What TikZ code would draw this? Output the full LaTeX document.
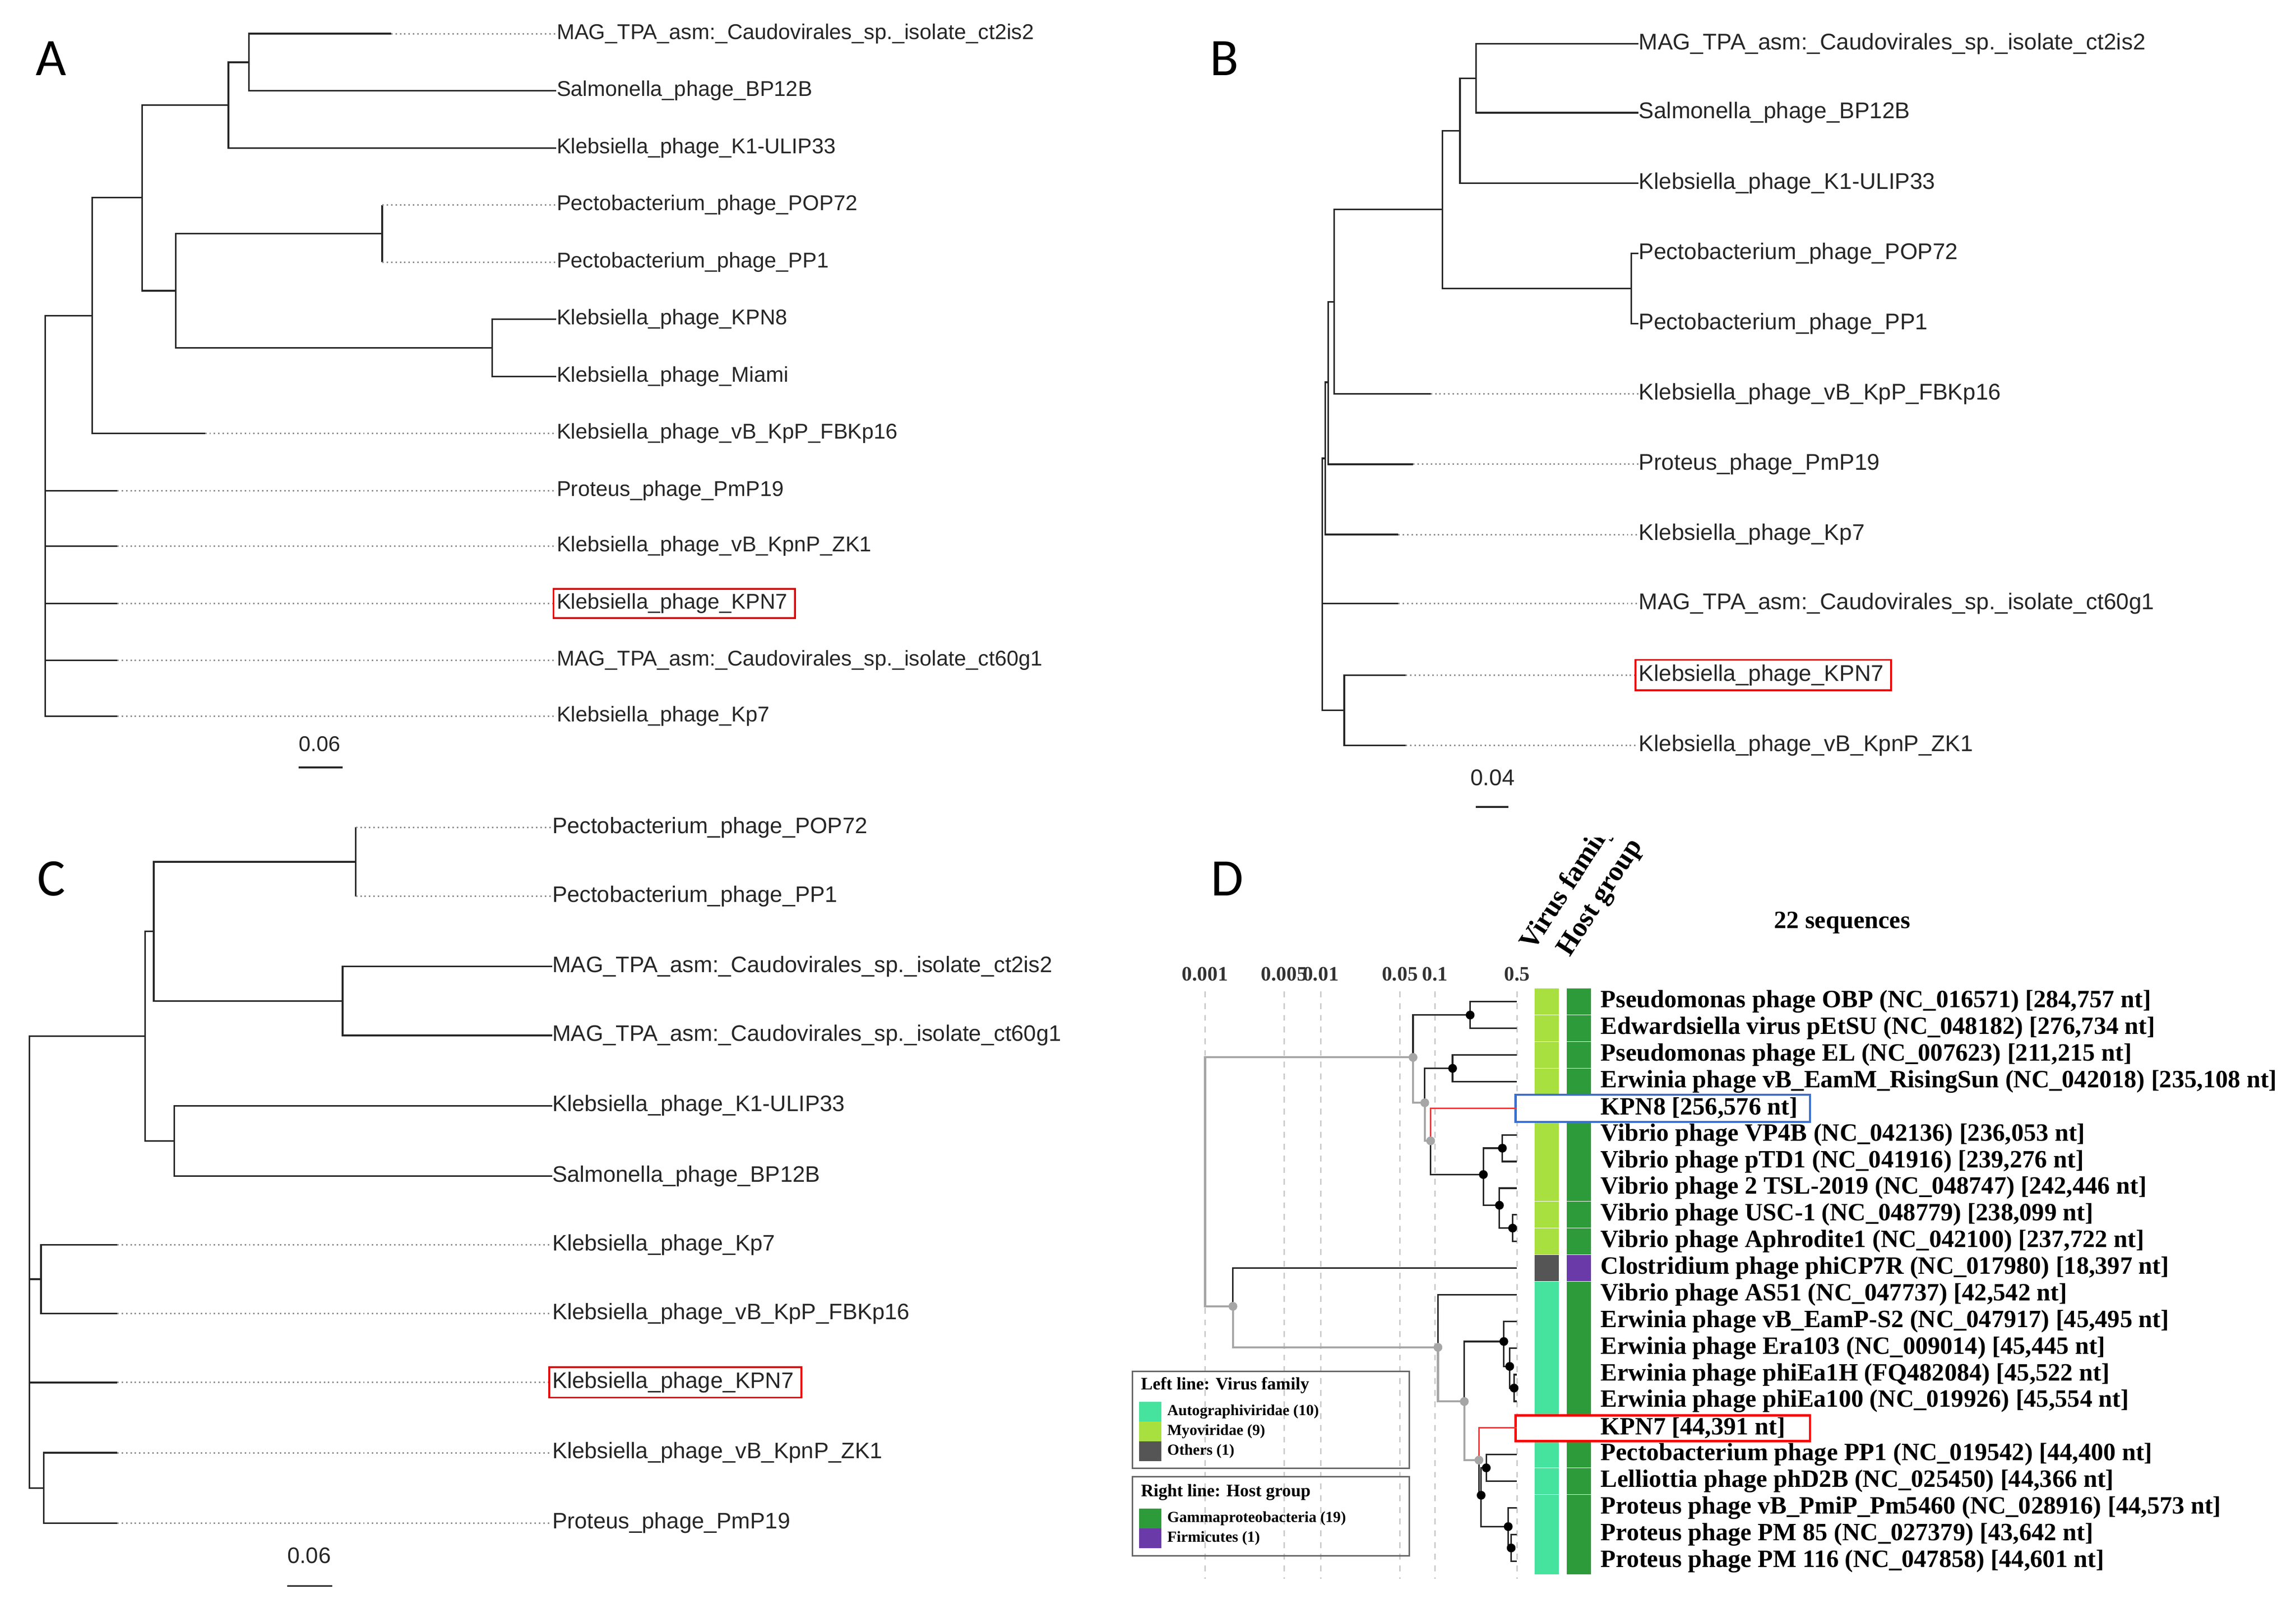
\documentclass[tikz,border=0pt]{standalone}
\usepackage{fontspec}
\setmainfont{Liberation Serif}
\setsansfont{Liberation Sans}
\newfontfamily\calib{Carlito}
\definecolor{autog}{HTML}{45E39E}
\definecolor{myo}{HTML}{A8E03F}
\definecolor{oth}{HTML}{555555}
\definecolor{gam}{HTML}{2E9B3A}
\definecolor{firm}{HTML}{6A3AA8}
\definecolor{kblue}{HTML}{3A6FD0}
\newcommand\dotleaf[4]{\draw[tr] (#1) |- (#2,#3); \draw[dt] (#2,#3) -- (#4.west);}
\newcommand\solidleaf[2]{\draw[tr] (#1) |- (#2.west);}
\newcommand\hlbox[1]{\draw[box] ([xshift=-2pt,yshift=-3pt]#1.south west) rectangle ([xshift=5pt,yshift=3pt]#1.north east);}
\begin{document}
\begin{tikzpicture}[x=1pt,y=-1pt,
  tr/.style={draw=black!85,line width=1.1pt},
  dt/.style={draw=black!45,line width=1pt,dash pattern=on 1pt off 2pt},
  gr/.style={draw=black!35,line width=1.4pt},
  rd/.style={draw=red!80,line width=1pt},
  lab/.style={font=\fontsize{#1}{18}\selectfont\sffamily,text=black!85,inner sep=0pt,anchor=west},
  labD/.style={font=\fontsize{17}{18}\selectfont\bfseries,inner sep=0pt,anchor=west},
  letter/.style={font=\fontsize{36}{40}\selectfont\calib,inner sep=0pt},
  box/.style={draw=red!90!black,line width=1.3pt},
  grid/.style={draw=black!20,line width=0.8pt,dash pattern=on 4pt off 4pt},
  bd/.style={fill=black},
  gd/.style={fill=black!35}]
\useasboundingbox (0,0) rectangle (1568,1098);
% ---------- Panel A ----------
\node[letter] (LA) at (35,40) {A};
\foreach \n/\y/\t in {1/23/{MAG\_TPA\_asm:\_Caudovirales\_sp.\_isolate\_ct2is2},2/62/{Salmonella\_phage\_BP12B},3/101/{Klebsiella\_phage\_K1-ULIP33},4/140/{Pectobacterium\_phage\_POP72},5/179/{Pectobacterium\_phage\_PP1},6/218/{Klebsiella\_phage\_KPN8},7/257/{Klebsiella\_phage\_Miami},8/296/{Klebsiella\_phage\_vB\_KpP\_FBKp16},9/335/{Proteus\_phage\_PmP19},10/373/{Klebsiella\_phage\_vB\_KpnP\_ZK1},11/412/{Klebsiella\_phage\_KPN7},12/451/{MAG\_TPA\_asm:\_Caudovirales\_sp.\_isolate\_ct60g1},13/489/{Klebsiella\_phage\_Kp7}}
  {\node[lab=14.6] (A\n) at (380,\y) {\t};}
\coordinate (a1) at (170,42.5); \coordinate (a2) at (156,71.75);
\coordinate (a3) at (261,159.5); \coordinate (a4) at (336,237.5);
\coordinate (a5) at (120,198.5); \coordinate (a6) at (97,135);
\coordinate (a7) at (63,215.5); \coordinate (aR) at (31,352);
\dotleaf{a1}{267}{23}{A1} \solidleaf{a1}{A2}
\draw[tr] (a2) |- (a1); \solidleaf{a2}{A3}
\dotleaf{a3}{261}{140}{A4} \dotleaf{a3}{261}{179}{A5}
\solidleaf{a4}{A6} \solidleaf{a4}{A7}
\draw[tr] (a5) |- (a3); \draw[tr] (a5) |- (a4);
\draw[tr] (a6) |- (a2); \draw[tr] (a6) |- (a5);
\draw[tr] (a7) |- (a6); \dotleaf{a7}{140}{296}{A8}
\draw[tr] (aR) |- (a7);
\dotleaf{aR}{80}{335}{A9} \dotleaf{aR}{80}{373}{A10} \dotleaf{aR}{80}{412}{A11} \dotleaf{aR}{80}{451}{A12} \dotleaf{aR}{80}{489}{A13}
\hlbox{A11}
\node[lab=14.6] (sA) at (204,508) {0.06};
\draw[tr] (204,524) -- (234,524);
% ---------- Panel B ----------
\node[letter] (LB) at (836,40) {B};
\foreach \n/\y/\t in {1/30/{MAG\_TPA\_asm:\_Caudovirales\_sp.\_isolate\_ct2is2},2/77/{Salmonella\_phage\_BP12B},3/125/{Klebsiella\_phage\_K1-ULIP33},4/173/{Pectobacterium\_phage\_POP72},5/221/{Pectobacterium\_phage\_PP1},6/269/{Klebsiella\_phage\_vB\_KpP\_FBKp16},7/317/{Proteus\_phage\_PmP19},8/365/{Klebsiella\_phage\_Kp7},9/412/{MAG\_TPA\_asm:\_Caudovirales\_sp.\_isolate\_ct60g1},10/461/{Klebsiella\_phage\_KPN7},11/509/{Klebsiella\_phage\_vB\_KpnP\_ZK1}}
  {\node[lab=15.5] (B\n) at (1119,\y) {\t};}
\coordinate (b1) at (1008,53.5); \coordinate (b2) at (997,89.25);
\coordinate (b3) at (1114,197); \coordinate (b4) at (985,143);
\coordinate (b5) at (911,206); \coordinate (b6) at (907,261);
\coordinate (b7) at (905,313); \coordinate (b8) at (918,485);
\coordinate (bR) at (903,400);
\solidleaf{b1}{B1} \solidleaf{b1}{B2}
\draw[tr] (b2) |- (b1); \solidleaf{b2}{B3}
\solidleaf{b3}{B4} \solidleaf{b3}{B5}
\draw[tr] (b4) |- (b2); \draw[tr] (b4) |- (b3);
\draw[tr] (b5) |- (b4); \dotleaf{b5}{977}{269}{B6}
\draw[tr] (b6) |- (b5); \dotleaf{b6}{965}{317}{B7}
\draw[tr] (b7) |- (b6); \dotleaf{b7}{955}{365}{B8}
\dotleaf{b8}{960}{461}{B10} \dotleaf{b8}{960}{509}{B11}
\draw[tr] (bR) |- (b7); \draw[tr] (bR) |- (b8); \dotleaf{bR}{955}{412}{B9}
\hlbox{B10}
\node[lab=15.5] (sB) at (1004,531) {0.04};
\draw[tr] (1008,551) -- (1030,551);
% ---------- Panel C ----------
\node[letter] (LC) at (35,600) {C};
\foreach \n/\y/\t in {1/565/{Pectobacterium\_phage\_POP72},2/612/{Pectobacterium\_phage\_PP1},3/660/{MAG\_TPA\_asm:\_Caudovirales\_sp.\_isolate\_ct2is2},4/707/{MAG\_TPA\_asm:\_Caudovirales\_sp.\_isolate\_ct60g1},5/755/{Klebsiella\_phage\_K1-ULIP33},6/803/{Salmonella\_phage\_BP12B},7/850/{Klebsiella\_phage\_Kp7},8/897/{Klebsiella\_phage\_vB\_KpP\_FBKp16},9/944/{Klebsiella\_phage\_KPN7},10/992/{Klebsiella\_phage\_vB\_KpnP\_ZK1},11/1040/{Proteus\_phage\_PmP19}}
  {\node[lab=15.3] (C\n) at (377,\y) {\t};}
\coordinate (c1) at (243,588.5); \coordinate (c2) at (234,683.5);
\coordinate (c3) at (105,636); \coordinate (c4) at (119,779);
\coordinate (c5) at (99,707.5); \coordinate (c6) at (28,873.5);
\coordinate (c7) at (30,1016); \coordinate (cR) at (20,860);
\dotleaf{c1}{243}{565}{C1} \dotleaf{c1}{243}{612}{C2}
\solidleaf{c2}{C3} \solidleaf{c2}{C4}
\draw[tr] (c3) |- (c1); \draw[tr] (c3) |- (c2);
\solidleaf{c4}{C5} \solidleaf{c4}{C6}
\draw[tr] (c5) |- (c3); \draw[tr] (c5) |- (c4);
\dotleaf{c6}{80}{850}{C7} \dotleaf{c6}{80}{897}{C8}
\dotleaf{c7}{80}{992}{C10} \dotleaf{c7}{80}{1040}{C11}
\draw[tr] (cR) |- (c5); \draw[tr] (cR) |- (c6); \dotleaf{cR}{80}{944}{C9} \draw[tr] (cR) |- (c7);
\hlbox{C9}
\node[lab=15.3] (sC) at (196,1062) {0.06};
\draw[tr] (196,1083) -- (227,1083);
% ---------- Panel D ----------
\node[letter] (LD) at (838,600) {D};
\foreach \x/\t in {823/0.001,877/0.005,902/0.01,956/0.05,980/0.1,1036/0.5}
  {\draw[grid] (\x,677) -- (\x,1078);
   \node[font=\fontsize{14}{16}\selectfont\bfseries,inner sep=0pt,text=black!80] (tk\x) at (\x,665) {\t};}
\node[font=\fontsize{17}{20}\selectfont\bfseries,inner sep=0pt] (seq) at (1258,630) {22 sequences};
\begin{scope}
\clip (1000,572) rectangle (1200,700);
\node[font=\fontsize{19}{20}\selectfont\bfseries,rotate=57,anchor=base west,inner sep=0pt] (vf) at (1047,650) {Virus family};
\end{scope}
\node[font=\fontsize{19}{20}\selectfont\bfseries,rotate=57,anchor=base west,inner sep=0pt] (hg) at (1072,654) {Host group};
\foreach \i/\c/\h in {1/myo/gam,2/myo/gam,3/myo/gam,4/myo/gam,5/myo/gam,6/myo/gam,7/myo/gam,8/myo/gam,9/myo/gam,10/myo/gam,11/oth/firm,12/autog/gam,13/autog/gam,14/autog/gam,15/autog/gam,16/autog/gam,17/autog/gam,18/autog/gam,19/autog/gam,20/autog/gam,21/autog/gam,22/autog/gam}
 {\pgfmathsetmacro\yy{684+18.19*(\i-1)}
  \coordinate (t\i) at (1036,\yy);
  \fill[\c] (1048,\yy-9.1) rectangle (1064.5,\yy+9.1);
  \fill[\h] (1070,\yy-9.1) rectangle (1086.5,\yy+9.1);
  \draw[white,line width=0.3pt] (1048,\yy+9.1) -- (1064.5,\yy+9.1) (1070,\yy+9.1) -- (1086.5,\yy+9.1);}
\draw[kblue,line width=1.5pt,fill=white] (1035,747.5) rectangle (1236,766);
\draw[red,line width=1.5pt,fill=white] (1035,966.5) rectangle (1236,984);
\foreach \i/\t in {
 1/{Pseudomonas phage OBP (NC\_016571) [284,757 nt]},
 2/{Edwardsiella virus pEtSU (NC\_048182) [276,734 nt]},
 3/{Pseudomonas phage EL (NC\_007623) [211,215 nt]},
 4/{Erwinia phage vB\_EamM\_RisingSun (NC\_042018) [235,108 nt]},
 5/{KPN8 [256,576 nt]},
 6/{Vibrio phage VP4B (NC\_042136) [236,053 nt]},
 7/{Vibrio phage pTD1 (NC\_041916) [239,276 nt]},
 8/{Vibrio phage 2 TSL-2019 (NC\_048747) [242,446 nt]},
 9/{Vibrio phage USC-1 (NC\_048779) [238,099 nt]},
 10/{Vibrio phage Aphrodite1 (NC\_042100) [237,722 nt]},
 11/{Clostridium phage phiCP7R (NC\_017980) [18,397 nt]},
 12/{Vibrio phage AS51 (NC\_047737) [42,542 nt]},
 13/{Erwinia phage vB\_EamP-S2 (NC\_047917) [45,495 nt]},
 14/{Erwinia phage Era103 (NC\_009014) [45,445 nt]},
 15/{Erwinia phage phiEa1H (FQ482084) [45,522 nt]},
 16/{Erwinia phage phiEa100 (NC\_019926) [45,554 nt]},
 17/{KPN7 [44,391 nt]},
 18/{Pectobacterium phage PP1 (NC\_019542) [44,400 nt]},
 19/{Lelliottia phage phD2B (NC\_025450) [44,366 nt]},
 20/{Proteus phage vB\_PmiP\_Pm5460 (NC\_028916) [44,573 nt]},
 21/{Proteus phage PM 85 (NC\_027379) [43,642 nt]},
 22/{Proteus phage PM 116 (NC\_047858) [44,601 nt]}}
 {\pgfmathsetmacro\yy{684+18.19*(\i-1)}
  \node[labD] (N\i) at (1093,\yy) {\t};}
\coordinate (da) at (1004,693.1); \coordinate (db) at (992,729.5);
\coordinate (dfn) at (1026,784); \coordinate (dg) at (1024,823);
\coordinate (dh) at (1033,838.6); \coordinate (de) at (1013,802);
\coordinate (dd) at (977,779); \coordinate (dc) at (973,753);
\coordinate (dg0) at (965,722); \coordinate (dR) at (823,807);
\coordinate (dh0) at (842,892); \coordinate (di) at (982,920);
\coordinate (dj) at (1000,957); \coordinate (dk) at (1027,916);
\coordinate (dl) at (1031,933); \coordinate (dm) at (1034,947.8);
\coordinate (dn) at (1010,997); \coordinate (dp) at (1011.5,1021);
\coordinate (dO) at (1015,1002.3); \coordinate (dq) at (1030,1042.4);
\coordinate (dr) at (1032,1057);
\draw[gr] (dR) |- (dg0); \draw[gr] (dR) |- (dh0);
\draw[gr] (dg0) |- (dc); \draw[gr] (dc) |- (dd);
\draw[gr] (dh0) |- (di); \draw[gr] (di) |- (dj); \draw[gr] (dj) |- (dn);
\draw[tr] (dg0) |- (da); \draw[tr] (da) |- (t1); \draw[tr] (da) |- (t2);
\draw[tr] (dc) |- (db); \draw[tr] (db) |- (t3); \draw[tr] (db) |- (t4);
\draw[rd] (dd) |- (t5);
\draw[tr] (dd) |- (de); \draw[tr] (de) |- (dfn); \draw[tr] (de) |- (dg);
\draw[tr] (dfn) |- (t6); \draw[tr] (dfn) |- (t7);
\draw[tr] (dg) |- (t8); \draw[tr] (dg) |- (dh);
\draw[tr] (dh) |- (t9); \draw[tr] (dh) |- (t10);
\draw[tr] (dh0) |- (t11); \draw[tr] (di) |- (t12);
\draw[tr] (dj) |- (dk); \draw[tr] (dk) |- (t13); \draw[tr] (dk) |- (dl);
\draw[tr] (dl) |- (t14); \draw[tr] (dl) |- (dm);
\draw[tr] (dm) |- (t15); \draw[tr] (dm) |- (t16);
\draw[rd] (dn) |- (t17); \draw[tr] (dn) |- (dp);
\draw[tr] (dp) |- (dO); \draw[tr] (dp) |- (dq);
\draw[tr] (dO) |- (t18); \draw[tr] (dO) |- (t19);
\draw[tr] (dq) |- (t20); \draw[tr] (dq) |- (dr);
\draw[tr] (dr) |- (t21); \draw[tr] (dr) |- (t22);
\foreach \p in {da,db,dfn,dg,dh,de,dk,dl,dm,dO,dp,dq,dr} {\fill[bd] (\p) circle (3pt);}
\foreach \p in {dg0,dc,dd,dh0,di,dj,dn} {\fill[gd] (\p) circle (3pt);}
\node[draw=black!60,line width=1pt,minimum width=189pt,minimum height=66pt,inner sep=0pt,anchor=north west] (leg1) at (773,936) {};
\node[draw=black!60,line width=1pt,minimum width=189pt,minimum height=54pt,inner sep=0pt,anchor=north west] (leg2) at (773,1008) {};
\node[font=\fontsize{12}{14}\selectfont\bfseries,inner sep=0pt,anchor=west] (lt1) at (779,946) {Left line: Virus family};
\node[font=\fontsize{12}{14}\selectfont\bfseries,inner sep=0pt,anchor=west] (lt2) at (779,1019) {Right line: Host group};
\foreach \y/\c/\t in {964/autog/{Autographiviridae (10)},977.5/myo/{Myoviridae (9)},991/oth/{Others (1)},1037/gam/{Gammaproteobacteria (19)},1050.5/firm/{Firmicutes (1)}}
 {\fill[\c] (778,\y-6.8) rectangle (793,\y+6.8);
  \node[font=\fontsize{10.5}{12}\selectfont\bfseries,inner sep=0pt,anchor=west] at (797,\y) {\t};}
\end{tikzpicture}
\end{document}
